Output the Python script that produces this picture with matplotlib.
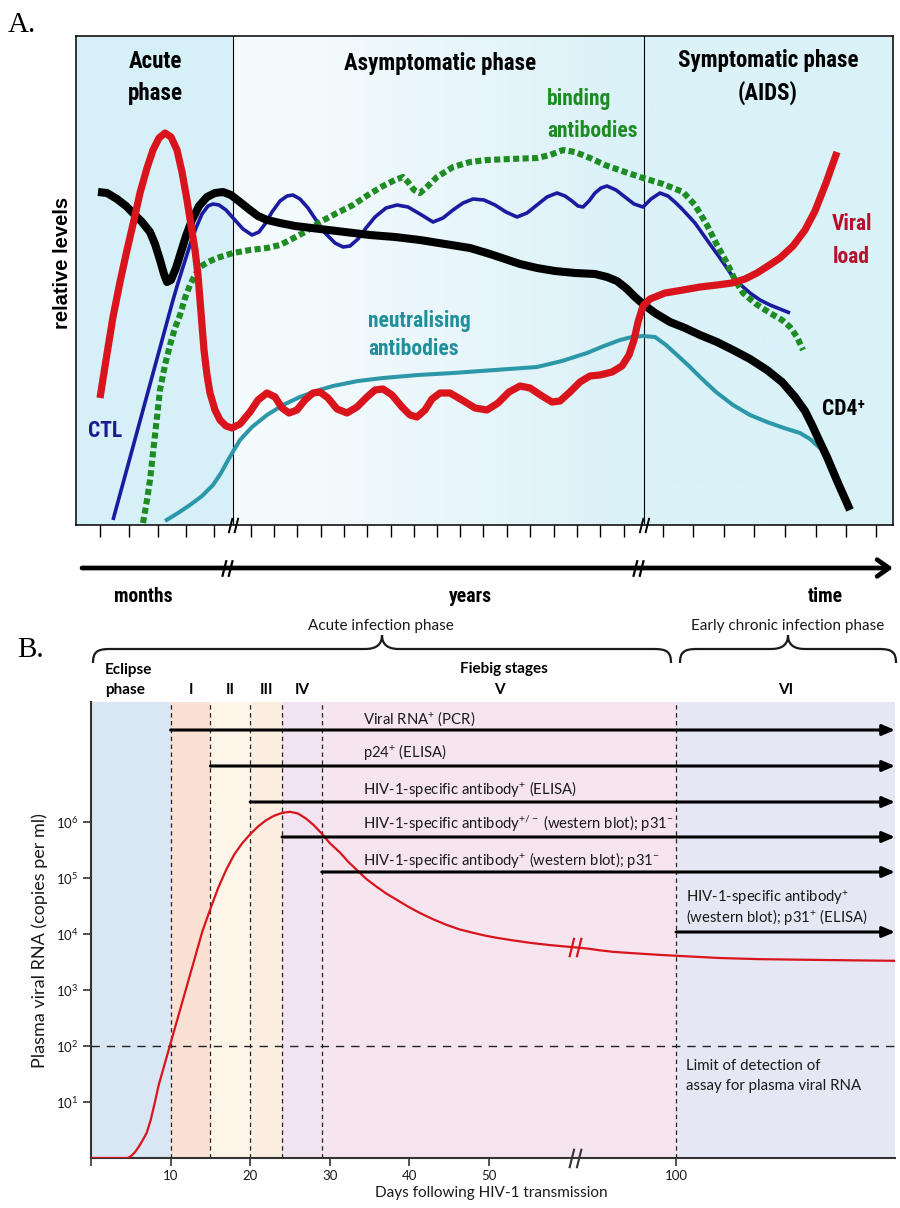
import numpy as np
import matplotlib
matplotlib.use("Agg")
import matplotlib.pyplot as plt
import matplotlib.transforms as mtransforms
from matplotlib.path import Path
from matplotlib.patches import PathPatch, FancyArrowPatch
from matplotlib.lines import Line2D
from matplotlib.ticker import NullLocator
from matplotlib.colors import to_rgb
from matplotlib import font_manager as fm

plt.rcParams['font.family'] = ['Lato', 'DejaVu Sans']
plt.rcParams['mathtext.fontset'] = 'custom'
plt.rcParams['mathtext.rm'] = 'Lato'
plt.rcParams['mathtext.it'] = 'Lato:italic'
plt.rcParams['mathtext.bf'] = 'Lato:bold'

_names = {f.name for f in fm.fontManager.ttflist}
if 'Liberation Sans Narrow' in _names:
    NARROW, NS = ['Liberation Sans Narrow', 'DejaVu Sans'], 1.0
elif 'Roboto Condensed' in _names:
    NARROW, NS = ['Roboto Condensed', 'DejaVu Sans'], 0.97
else:
    NARROW, NS = ['Roboto', 'DejaVu Sans'], 0.86
ARIALB = ['Liberation Sans', 'DejaVu Sans']
SERIF = ['Liberation Serif', 'DejaVu Serif']

# ====================== Panel A data (schematic, relative units) ======================
# x: relative time across the panel (0..817), y: relative level (0..489)
A_xmax, A_ymax = 817, 489
A_phase_bounds = [157, 568]
A_ticks = [24, 53, 82, 110, 138, 175, 198, 221, 245, 268, 291, 315, 338, 361, 384,
           407, 431, 454, 478, 501, 524, 548, 587, 617, 648, 678, 709, 740, 770, 800]

cd4_x = [22, 31, 41, 50, 58, 66, 74, 79, 84, 88, 91, 95, 100, 105, 110, 116, 123, 131, 139, 147,
         155, 164, 174, 182, 191, 204, 219, 244, 269, 294, 319, 344, 369, 394, 414, 429, 444, 461,
         479, 499, 519, 531, 541, 551, 559, 567, 579, 594, 609, 624, 641, 657, 674, 691, 706, 719,
         729, 736, 742, 751, 762, 774]
cd4_y = [333, 332, 326, 319, 311, 303, 293, 281, 265, 251, 243, 245, 257, 273, 289, 305, 319, 328, 332, 333,
         330, 323, 315, 309, 305, 302, 299, 296, 293, 290, 288, 285, 281, 277, 271, 266, 261, 257,
         254, 252, 251, 248, 244, 236, 228, 221, 212, 203, 197, 190, 183, 175, 166, 155, 143, 128,
         114, 100, 87, 68, 42, 15]

vl_x = [24, 30, 37, 44, 51, 58, 64, 71, 77, 83, 89, 95, 101, 106, 111, 115, 119, 122, 124, 126, 128,
        131, 134, 139, 144, 150, 156, 164, 174, 182, 191, 199, 206, 213, 221, 229, 237, 244, 252, 261,
        271, 281, 291, 299, 307, 316, 326, 334, 341, 349, 356, 364, 374, 386, 399, 411, 422, 433, 444,
        454, 466, 476, 484, 494, 504, 514, 524, 536, 546, 553, 558, 562, 567, 574, 589, 607, 624, 641,
        656, 669, 681, 692, 704, 717, 729, 739, 750, 761]
vl_y = [127, 165, 208, 243, 275, 305, 332, 357, 375, 387, 392, 388, 375, 353, 325, 300, 275, 250, 225, 200, 175,
        150, 132, 115, 105, 99, 97, 101, 113, 125, 132, 128, 117, 112, 115, 125, 132, 133, 127, 116,
        112, 118, 128, 135, 136, 130, 118, 110, 108, 115, 126, 132, 132, 125, 117, 115, 122, 133, 139,
        137, 129, 123, 124, 133, 143, 149, 150, 153, 159, 170, 185, 203, 219, 226, 232, 235, 238, 240,
        242, 246, 252, 259, 267, 279, 295, 314, 342, 373]

ctl_x = [37, 67, 97, 102, 107, 114, 120, 126, 132, 137, 143, 150, 158, 167, 176, 183, 189, 196, 204, 211,
         217, 224, 232, 240, 249, 259, 267, 274, 282, 290, 299, 310, 321, 332, 344, 357, 367, 377, 387,
         397, 408, 419, 430, 441, 451, 461, 471, 481, 489, 496, 502, 507, 513, 519, 525, 531, 540, 549,
         558, 567, 575, 584, 592, 600, 607, 619, 631, 644, 657, 666, 674, 684, 694, 704, 714]
ctl_y = [5, 115, 225, 242, 258, 280, 297, 311, 319, 321, 320, 315, 306, 296, 290, 293, 301, 313, 324, 329,
         330, 326, 317, 305, 292, 282, 278, 279, 286, 297, 308, 317, 320, 318, 311, 303, 307, 315, 322,
         326, 325, 320, 313, 308, 312, 320, 328, 332, 329, 324, 319, 318, 324, 332, 337, 339, 335, 328,
         321, 318, 326, 332, 329, 322, 315, 302, 285, 267, 248, 239, 232, 225, 220, 216, 212]

bind_x = [67, 71, 74, 79, 84, 89, 94, 99, 104, 109, 114, 119, 124, 132, 141, 157, 174, 191, 204, 214,
          229, 244, 261, 277, 292, 307, 319, 327, 332, 338, 344, 352, 361, 377, 394, 411, 434, 461, 474,
          487, 499, 514, 529, 549, 567, 587, 607, 619, 631, 641, 651, 659, 667, 680, 694, 706, 714, 721, 727]
bind_y = [2, 25, 45, 90, 135, 160, 180, 197, 210, 227, 240, 250, 258, 263, 267, 272, 275, 277, 280, 285,
          293, 303, 312, 320, 330, 339, 345, 348, 343, 335, 332, 339, 348, 358, 363, 365, 366, 367, 370,
          375, 373, 367, 360, 353, 347, 341, 333, 320, 300, 280, 262, 245, 232, 221, 212, 205, 198, 188, 175]

neut_x = [89, 102, 114, 126, 137, 145, 151, 158, 164, 176, 191, 207, 224, 240, 257, 282, 307, 342, 377,
          419, 461, 486, 511, 528, 544, 556, 567, 579, 590, 601, 613, 624, 640, 657, 674, 691, 708, 724, 734, 744]
neut_y = [4, 12, 20, 29, 40, 52, 63, 75, 85, 98, 110, 120, 128, 134, 139, 144, 147, 150, 152,
          155, 158, 164, 172, 179, 185, 188, 189, 188, 180, 170, 159, 148, 133, 120, 110, 103, 97, 92, 86, 77]

# ====================== Panel B data ======================
viral_days = [0, 2, 4, 4.6, 5.0, 5.5, 6.0, 6.5, 7.0, 7.5, 8.0, 8.5, 9.0, 9.5, 10, 11, 12, 13, 14, 15,
              16, 17, 18, 19, 20, 21, 22, 23, 24, 25, 26, 27, 28, 29, 30, 31.3, 32.3, 33.4, 34.6, 35.9,
              37.1, 38.4, 39.8, 41.3, 43, 44.7, 46.3, 48, 49.5, 51, 53, 55.2, 57.7, 60.8, 65.4, 70,
              75.6, 82, 88.7, 94, 100, 108, 116, 130, 145, 162, 180]
viral_log10 = [0, 0, 0, 0, 0.03, 0.1, 0.2, 0.32, 0.45, 0.68, 0.98, 1.3, 1.55, 1.8, 2.05, 2.55, 3.05, 3.55, 4.05, 4.45,
               4.83, 5.15, 5.42, 5.62, 5.78, 5.92, 6.03, 6.11, 6.16, 6.18, 6.15, 6.06, 5.94, 5.79, 5.62, 5.45,
               5.29, 5.14, 4.98, 4.84, 4.72, 4.61, 4.49, 4.375, 4.26, 4.16, 4.08, 4.02, 3.97, 3.93, 3.885,
               3.84, 3.80, 3.76, 3.74, 3.71, 3.68, 3.66, 3.64, 3.625, 3.61, 3.59, 3.57, 3.55, 3.54, 3.53, 3.52]
lod_copies = 1e2
break_day = 60.8
stage_bounds = [0, 10, 15, 20, 24, 29, 100, 180]
stage_names = ['', 'I', 'II', 'III', 'IV', 'V', 'VI']
stage_colors = ['#d9e6f4', '#fbe1d3', '#fdf5e8', '#fbeddf', '#f1e3ef', '#f6e5ef', '#e5e8f4']
assay_start = [10, 15, 20, 24, 29, 100]
assay_labels = [r'Viral RNA$^{+}$ (PCR)',
                r'p24$^{+}$ (ELISA)',
                r'HIV-1-specific antibody$^{+}$ (ELISA)',
                r'HIV-1-specific antibody$^{+/-}$ (western blot); p31$^{-}$',
                r'HIV-1-specific antibody$^{+}$ (western blot); p31$^{-}$',
                r'HIV-1-specific antibody$^{+}$' + '\n' + r'(western blot); p31$^{+}$ (ELISA)']
xtick_days = [0, 10, 20, 30, 40, 50, 100]
xtick_labels = ['', '10', '20', '30', '40', '50', '100']
ytick_exp = [1, 2, 3, 4, 5, 6]

# ====================== Figure ======================
W, H = 900, 1208
fig = plt.figure(figsize=(9, 12.08), dpi=100)
PX = mtransforms.Affine2D().scale(1 / W, -1 / H).translate(0, 1) + fig.transFigure

def ptext(x, y, s, **kw):
    kw.setdefault('va', 'baseline')
    return fig.text(x, y, s, transform=PX, **kw)

slash = Path([(-5, -8), (-1, 8), (1, -8), (5, 8)],
             [Path.MOVETO, Path.LINETO, Path.MOVETO, Path.LINETO])

# ---------------- Panel A ----------------
axA = fig.add_axes([76 / W, 1 - 525 / H, 817 / W, 489 / H])
bx = np.arange(A_xmax + 1)
stops_x = [0, 156.9, 157.1, 250, 420, 567.9, 568.1, 817]
stops_c = ['#d5f0f8', '#d8f1f8', '#f6fcfd', '#f2fafc', '#e5f5fa', '#d9f1f8', '#dbf2f8', '#d9f2f8']
rgb = np.array([to_rgb(c) for c in stops_c])
img = np.stack([np.interp(bx, stops_x, rgb[:, k]) for k in range(3)], axis=-1)[None, :, :]
axA.imshow(img, extent=(0, A_xmax, 0, A_ymax), aspect='auto', zorder=0, interpolation='bilinear')
axA.set_xlim(0, A_xmax)
axA.set_ylim(0, A_ymax)

for b in A_phase_bounds:
    axA.axvline(b, color='black', lw=0.8, zorder=1)

axA.plot(neut_x, neut_y, color='#2b97a8', lw=2.9, solid_capstyle='butt', solid_joinstyle='round', zorder=3)
axA.plot(ctl_x, ctl_y, color='#1b1ba0', lw=2.6, solid_capstyle='butt', solid_joinstyle='round', zorder=3)
axA.plot(bind_x, bind_y, color='#1e8c23', lw=4.4, ls=(0, (1.0, 0.55)), dash_capstyle='butt', zorder=4)
axA.plot(cd4_x, cd4_y, color='black', lw=5.8, solid_capstyle='butt', solid_joinstyle='round', zorder=5)
axA.plot(vl_x, vl_y, color='#d9141c', lw=5.2, solid_capstyle='butt', solid_joinstyle='round', zorder=6)

for sp in axA.spines.values():
    sp.set_linewidth(1.1)
    sp.set_color('black')
axA.set_xticks(A_ticks)
axA.set_yticks([])
axA.tick_params(axis='x', direction='out', length=8.5, width=1.0, labelbottom=False)
axA.plot(A_phase_bounds, [0, 0], marker=slash, ms=11, mew=1.4, color='black', ls='none',
         clip_on=False, zorder=7)

# time arrow
fig.add_artist(FancyArrowPatch((82, 568), (893, 568), transform=PX,
                               arrowstyle='->,head_length=0.85,head_width=0.6', mutation_scale=10,
                               lw=3.4, color='black', shrinkA=0, shrinkB=0))
fig.add_artist(Line2D([227, 638], [568, 568], transform=PX, marker=slash, ls='none', ms=12, mew=1.6,
                      color='black'))

# panel A texts
bold = dict(fontweight='bold', family=NARROW)
T1, T2, T3 = 17 * NS, 16 * NS, 14.6 * NS
ptext(155, 68, 'Acute', ha='center', fontsize=T1, **bold)
ptext(155, 100, 'phase', ha='center', fontsize=T1, **bold)
ptext(440, 70, 'Asymptomatic phase', ha='center', fontsize=T1, **bold)
ptext(768, 67, 'Symptomatic phase', ha='center', fontsize=T1, **bold)
ptext(768, 100, '(AIDS)', ha='center', fontsize=T1, **bold)
ptext(547, 105, 'binding', ha='left', fontsize=T2, color='#1e8c23', **bold)
ptext(547, 137, 'antibodies', ha='left', fontsize=T2, color='#1e8c23', **bold)
ptext(832, 230, 'Viral', ha='left', fontsize=T2, color='#b8102c', **bold)
ptext(833, 263, 'load', ha='left', fontsize=T2, color='#b8102c', **bold)
ptext(368, 327, 'neutralising', ha='left', fontsize=T2, color='#1f8f9c', **bold)
ptext(368, 355, 'antibodies', ha='left', fontsize=T2, color='#1f8f9c', **bold)
ptext(88, 437, 'CTL', ha='left', fontsize=T2, color='#1b1b8c', **bold)
ptext(822, 415, 'CD4\u207a', ha='left', fontsize=T2, color='black', **bold)
ptext(63, 263, 'relative levels', ha='center', va='center', rotation=90, fontsize=14.5,
      fontweight='bold', family=ARIALB)
ptext(143, 602, 'months', ha='center', fontsize=T3, **bold)
ptext(470, 602, 'years', ha='center', fontsize=T3, **bold)
ptext(825, 602, 'time', ha='center', fontsize=T3, **bold)
ptext(8, 32, 'A.', ha='left', fontsize=21, family=SERIF)
ptext(17, 657, 'B.', ha='left', fontsize=21, family=SERIF)

# ---------------- Panel B ----------------
axB = fig.add_axes([91 / W, 1 - 1158 / H, 804 / W, 456 / H])
XD = [-50, 0, break_day, 100, 180, 400]
XP = [-50, 0, break_day, 73.5, 101.0, 101.0 + 220 * 27.5 / 80]
fwd = lambda d: np.interp(d, XD, XP)
inv = lambda p: np.interp(p, XP, XD)
axB.set_xscale('function', functions=(fwd, inv))
axB.set_yscale('log')
axB.set_xlim(0, 180)
axB.set_ylim(1, 10 ** 8.14)

for a, b, c in zip(stage_bounds[:-1], stage_bounds[1:], stage_colors):
    axB.axvspan(a, b, color=c, lw=0, zorder=0)
for d in stage_bounds[1:-1]:
    axB.axvline(d, color='#222222', lw=0.9, ls=(0, (3.5, 2.8)), zorder=2)
axB.axhline(lod_copies, color='#222222', lw=1.0, ls=(0, (6, 5)), zorder=2)

copies = 10 ** np.array(viral_log10)
axB.plot(viral_days, copies, color='#d8141c', lw=1.6, zorder=4, solid_joinstyle='round')
axB.plot([break_day], [copies[viral_days.index(break_day)]], marker=slash, ms=14, mew=1.6,
         color='#d8141c', ls='none', zorder=6)
axB.plot([break_day], [1], marker=slash, ms=14, mew=1.5, color='#333333', ls='none',
         clip_on=False, zorder=6)

BL = mtransforms.blended_transform_factory(axB.transData, PX)
arrow_rows = [730, 766, 802, 837, 872, 932]
for s, yv in zip(assay_start, arrow_rows):
    axB.annotate('', xy=(stage_bounds[-1], yv), xytext=(s, yv), xycoords=BL, textcoords=BL,
                 arrowprops=dict(arrowstyle='-|>,head_length=0.75,head_width=0.32', mutation_scale=10,
                                 lw=2.2, color='black', shrinkA=0, shrinkB=0),
                 annotation_clip=False, zorder=5)

label_pos = [(363, 724), (363, 757), (363, 794), (363, 829), (363, 865)]
for (lx, ly), s in zip(label_pos, assay_labels[:5]):
    ptext(lx, ly, s, ha='left', fontsize=10.7, color='#1a1a1a')
l1, l2 = assay_labels[5].split('\n')
ptext(686, 902, l1, ha='left', fontsize=10.7, color='#1a1a1a')
ptext(686, 922, l2, ha='left', fontsize=10.7, color='#1a1a1a')
ptext(686, 1070, 'Limit of detection of', ha='left', fontsize=10.8, color='#1a1a1a')
ptext(686, 1090, 'assay for plasma viral RNA', ha='left', fontsize=10.8, color='#1a1a1a')

# stage headers
for a, b, name in zip(stage_bounds[:-1], stage_bounds[1:], stage_names):
    if name:
        xc = float(inv((fwd(a) + fwd(b)) / 2))
        fig.text(xc, 694, name, transform=BL, ha='center', va='baseline', fontsize=11, fontweight='bold')
v_lo, v_hi = stage_bounds[5], stage_bounds[6]
fig.text(float(inv((fwd(v_lo) + fwd(v_hi)) / 2)) + 0.6, 673, 'Fiebig stages', transform=BL,
         ha='center', va='baseline', fontsize=11, fontweight='bold')
ptext(105, 674, 'Eclipse', ha='left', fontsize=11, fontweight='bold')
ptext(105, 694, 'phase', ha='left', fontsize=11, fontweight='bold')

# braces
def brace(x0, x1, y, tip=14, end=14, r=17):
    xm = (x0 + x1) / 2
    verts = [(x0, y + end), (x0, y + 3), (x0 + 4, y), (x0 + r, y),
             (xm - r, y), (xm - 5, y), (xm, y - 5), (xm, y - tip),
             (xm, y - 5), (xm + 5, y), (xm + r, y),
             (x1 - r, y), (x1 - 4, y), (x1, y + 3), (x1, y + end)]
    codes = [Path.MOVETO, Path.CURVE4, Path.CURVE4, Path.CURVE4, Path.LINETO,
             Path.CURVE4, Path.CURVE4, Path.CURVE4, Path.CURVE4, Path.CURVE4, Path.CURVE4,
             Path.LINETO, Path.CURVE4, Path.CURVE4, Path.CURVE4]
    fig.add_artist(PathPatch(Path(verts, codes), transform=PX, fill=False, lw=1.6, edgecolor='#1a1a1a'))

brace(93, 671, 649)
brace(680, 896, 649)
ptext(381, 630, 'Acute infection phase', ha='center', fontsize=11, color='#1a1a1a')
ptext(788, 630, 'Early chronic infection phase', ha='center', fontsize=11, color='#1a1a1a')

# axes styling
for side in ('top', 'right'):
    axB.spines[side].set_visible(False)
for side in ('left', 'bottom'):
    axB.spines[side].set_linewidth(1.5)
    axB.spines[side].set_color('#333333')
axB.set_xticks(xtick_days)
axB.set_xticklabels(xtick_labels)
axB.set_yticks([10.0 ** k for k in ytick_exp])
axB.set_yticklabels([r'$10^{%d}$' % k for k in ytick_exp])
axB.xaxis.set_minor_locator(NullLocator())
axB.yaxis.set_minor_locator(NullLocator())
axB.tick_params(axis='both', direction='out', length=6, width=1.2, color='#333333',
                labelsize=9.5, labelcolor='#1a1a1a', pad=3)
ptext(40, 941, 'Plasma viral RNA (copies per ml)', ha='center', va='center', rotation=90,
      fontsize=13, color='#1a1a1a')
ptext(491, 1197, 'Days following HIV-1 transmission', ha='center', fontsize=11, color='#1a1a1a')

fig.savefig('out.png', dpi=100)
